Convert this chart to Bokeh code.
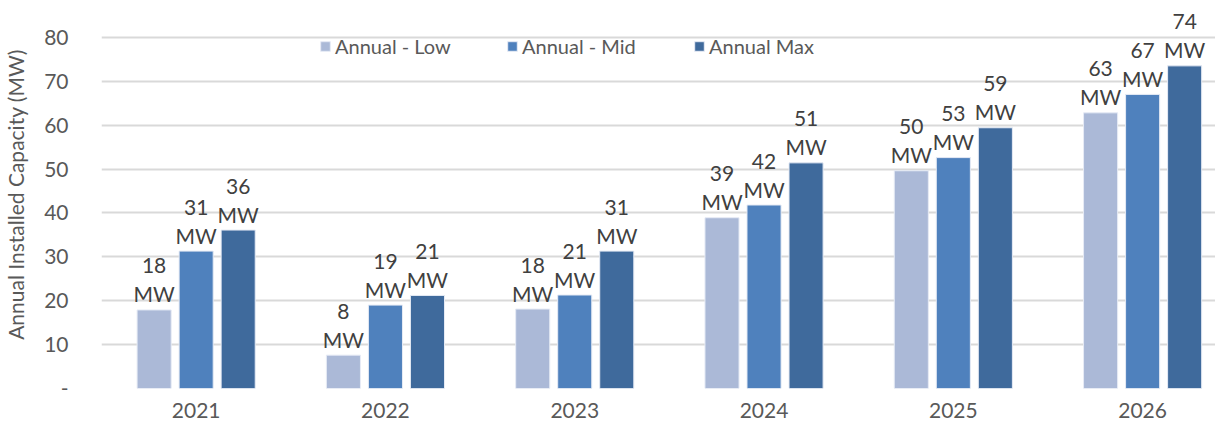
from bokeh.plotting import figure
from bokeh.models import ColumnDataSource, FixedTicker, Legend, LegendItem, Range1d
from bokeh.core.properties import value
from bokeh.embed import file_html
from bokeh.resources import INLINE

years = ["2021", "2022", "2023", "2024", "2025", "2026"]
low = [17.9, 7.6, 18.1, 38.9, 49.6, 62.8]
mid = [31.3, 19.0, 21.3, 41.8, 52.6, 67.0]
mx = [36.1, 21.2, 31.3, 51.4, 59.4, 73.5]
series_names = ["Annual - Low", "Annual - Mid", "Annual Max"]
colors = ["#ABB9D7", "#4F81BD", "#3F6A9C"]
y_ticks = [0, 10, 20, 30, 40, 50, 60, 70, 80]

FONT = "Lato"
TXT = "#595959"

p = figure(width=1215, height=420, output_backend="svg", toolbar_location=None,
           x_range=Range1d(0, 5.885), y_range=Range1d(0, 88.39),
           min_border_left=99, min_border_right=0, min_border_top=0, min_border_bottom=30)
p.outline_line_color = None
p.background_fill_color = "white"

centers = [i + 0.5 for i in range(len(years))]
offsets = [-0.222, 0.0, 0.222]
renderers = []
for vals, off, col in zip([low, mid, mx], offsets, colors):
    src = ColumnDataSource(dict(
        x=[c + off for c in centers], top=vals,
        num=[str(int(round(v))) for v in vals],
        unit=["MW"] * len(vals)))
    r = p.vbar(x="x", top="top", bottom=0, width=0.18, source=src,
               fill_color=col, line_color="#E6EBF5", line_width=1)
    renderers.append(r)
    p.text(x="x", y="top", text="unit", source=src, text_align="center",
           text_baseline="alphabetic", y_offset=-16, text_font=value(FONT),
           text_font_size="21px", text_color="#404040")
    p.text(x="x", y="top", text="num", source=src, text_align="center",
           text_baseline="alphabetic", y_offset=-44, text_font=value(FONT),
           text_font_size="21px", text_color="#404040")

p.xgrid.grid_line_color = None
p.ygrid.grid_line_color = "#D9D9D9"
p.ygrid.grid_line_width = 2
p.yaxis.ticker = FixedTicker(ticks=y_ticks)
p.yaxis.major_label_overrides = {0: "-"}
p.xaxis.ticker = FixedTicker(ticks=centers)
p.xaxis.major_label_overrides = {c: y for c, y in zip(centers, years)}

for ax in (p.xaxis, p.yaxis):
    ax.axis_line_color = None
    ax.major_tick_line_color = None
    ax.minor_tick_line_color = None
    ax.major_label_text_font = FONT
    ax.major_label_text_font_size = "21px"
    ax.major_label_text_color = TXT
p.xaxis.major_label_standoff = 8
p.yaxis.major_label_standoff = 27
p.yaxis.axis_label = "Annual Installed Capacity (MW)"
p.yaxis.axis_label_text_font = FONT
p.yaxis.axis_label_text_font_size = "21px"
p.yaxis.axis_label_text_font_style = "normal"
p.yaxis.axis_label_text_color = TXT
p.yaxis.axis_label_standoff = 13

legend = Legend(items=[LegendItem(label=n, renderers=[r]) for n, r in zip(series_names, renderers)],
                orientation="horizontal", location=(218, 330),
                glyph_width=12, glyph_height=12, label_standoff=4, label_width=160,
                spacing=11, padding=0, margin=0, border_line_color=None,
                background_fill_alpha=0, label_text_font=FONT,
                label_text_font_size="20px", label_text_color=TXT)
p.add_layout(legend)

open("out.html", "w").write(file_html(p, INLINE))
